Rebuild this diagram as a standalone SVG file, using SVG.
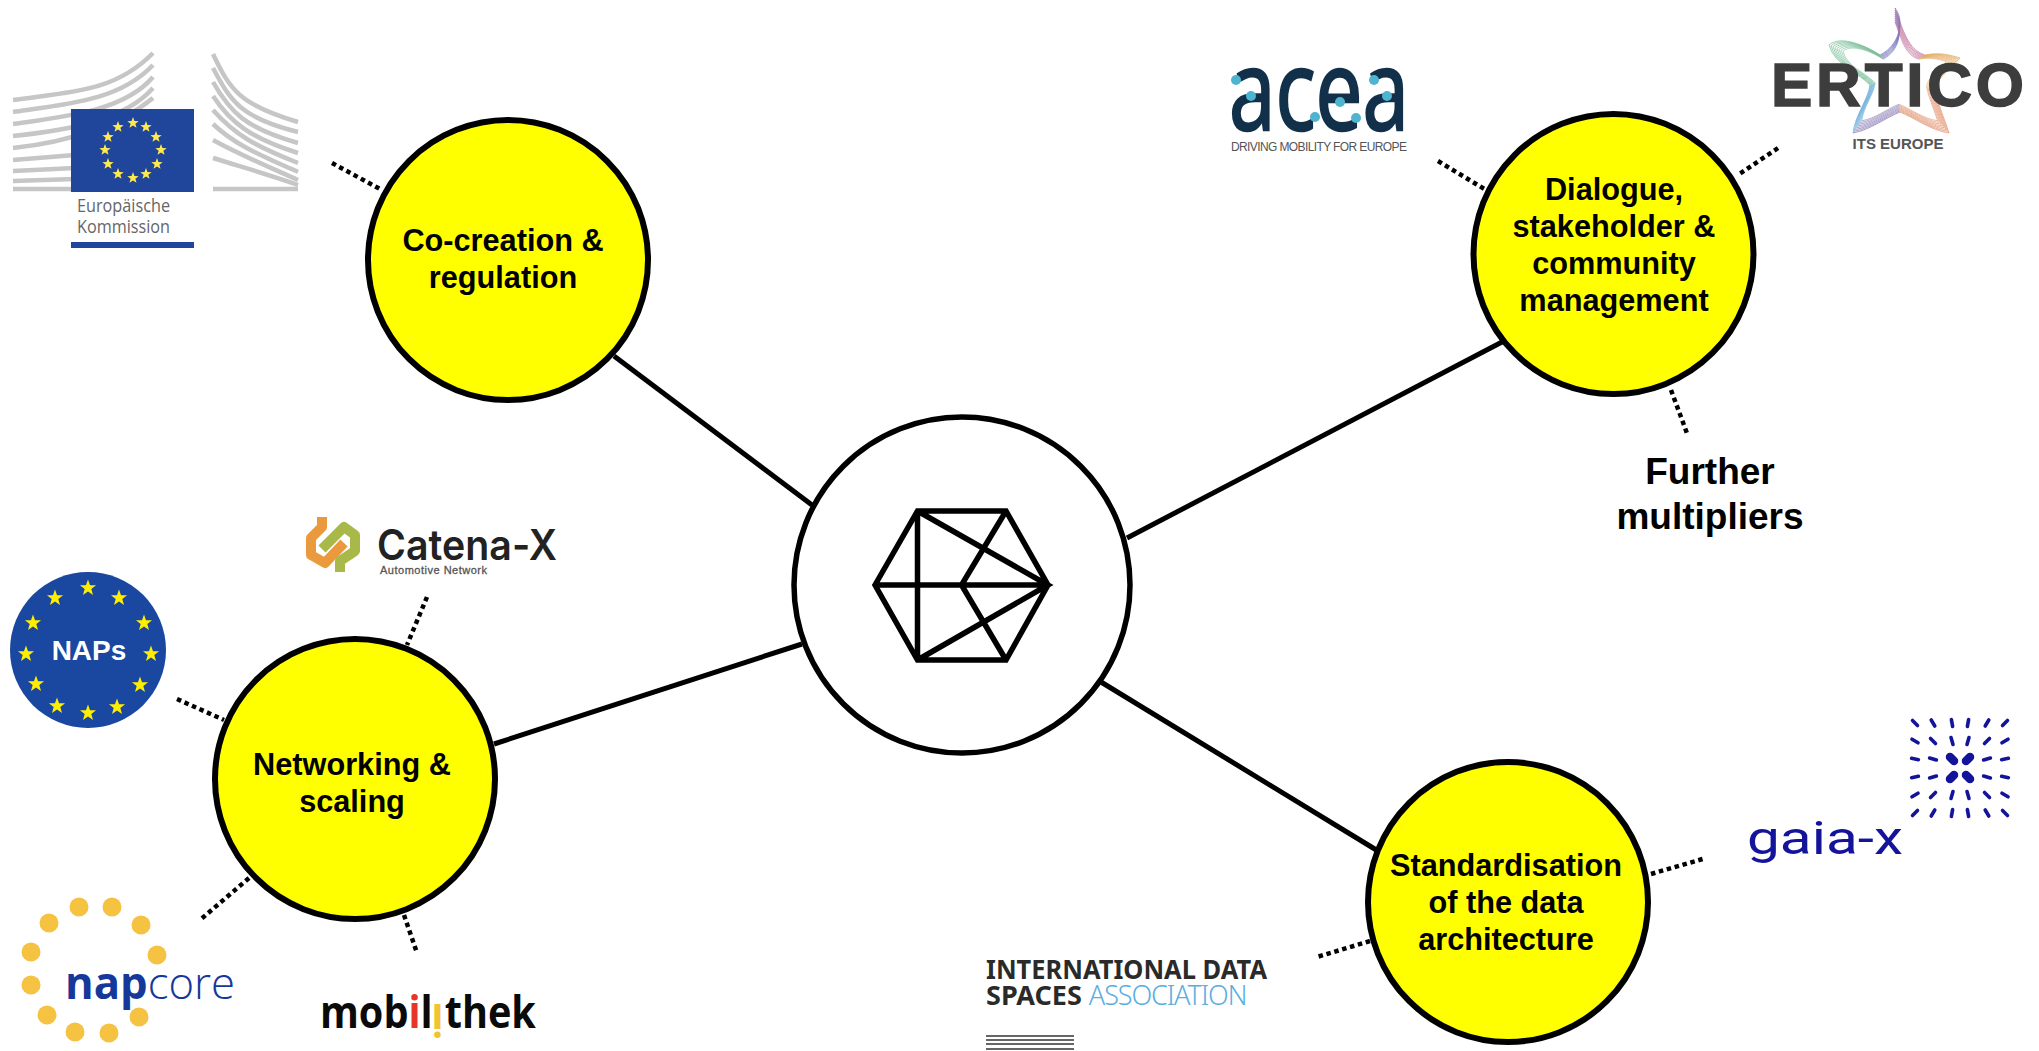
<svg xmlns="http://www.w3.org/2000/svg" xmlns:xlink="http://www.w3.org/1999/xlink" width="2039" height="1051" viewBox="0 0 2039 1051">
<style>
.bg{fill:#fff}
.node{fill:#ffff00;stroke:#000;stroke-width:6}
.label{font:bold 30.7px "Liberation Sans",Arial,sans-serif;fill:#000;text-anchor:middle}
.big{font:bold 37px "Liberation Sans",Arial,sans-serif;fill:#000;text-anchor:middle}
.solid{stroke:#000;stroke-width:5;fill:none}
.dot{stroke:#000;stroke-width:4.5;fill:none;stroke-dasharray:4.5 3.7}
.ecstar{fill:#ffe94f}
.napstar{fill:#ffee00}
.bld{stroke:#c6c6c6;stroke-width:4.5;fill:none}
.hex{stroke:#000;stroke-width:5.5;fill:none;stroke-linejoin:miter}
.nc{fill:#f5c242}
.ad{fill:#4fb4cf}
.gx{stroke:#14149a;stroke-width:3.6;stroke-linecap:round;fill:none}
.gxb{stroke:#14149a;stroke-width:8.5;stroke-linecap:round;fill:none}
.st{fill:none;stroke-width:.9;stroke-opacity:.8}
</style>
<defs>
<path id="star" d="M0,-1 L.24,-.33 .95,-.31 .39,.12 .59,.81 0,.4 -.59,.81 -.39,.12 -.95,-.31 -.24,-.33Z"/>
<g id="ertstar">
<path class="st" stroke="#7a78c0" d="M1895,8 C1905,20 1900,45 1880,55"/>
<path class="st" stroke="#c0709a" d="M1895,8 C1903,30 1908,50 1925,55"/>
<path class="st" stroke="#e0a050" d="M1925,55 C1940,52 1950,55 1960,58 C1950,70 1935,80 1935,90"/>
<path class="st" stroke="#e08860" d="M1935,90 C1938,105 1945,120 1949,133 C1930,130 1915,118 1900,112"/>
<path class="st" stroke="#8070b0" d="M1900,112 C1885,118 1870,130 1853,133"/>
<path class="st" stroke="#60a8d8" d="M1853,133 C1855,115 1868,100 1870,85"/>
<path class="st" stroke="#70b890" d="M1870,85 C1855,70 1835,65 1829,45 C1840,35 1865,45 1880,55"/>
</g>
<g id="gxt">
<path class="gx" d="M1912.5,720.5L1917.5,725.5M1931.2,720L1934.8,726M1951.4,719.6L1952.6,726.4M1968.6,719.6L1967.4,726.4M1988.8,720L1985.2,726M2007.5,720.5L2002.5,725.5M1912,739.2L1918,742.8M1930.5,738.5L1935.5,743.5M1951,737.6L1953,744.4M1969,737.6L1967,744.4M1989.5,738.5L1984.5,743.5M2008,739.2L2002,742.8M1911.6,758.3L1918.4,759.7M1929.6,758L1936.4,760M1990.4,758L1983.6,760M2008.4,758.3L2001.6,759.7"/>
<path class="gxb" d="M1950,757L1954,761M1970,757L1966,761"/>
</g>
</defs>
<rect class="bg" width="2039" height="1051"/>

<g id="connectors">
<path class="solid" d="M614,356L812,505"/>
<path class="solid" d="M1127,538L1502,342"/>
<path class="solid" d="M494,744L802,644"/>
<path class="solid" d="M1101,682L1378,851"/>
<path class="dot" d="M332,163L380,189"/>
<path class="dot" d="M1438,161L1486,190"/>
<path class="dot" d="M1778,148L1738,175"/>
<path class="dot" d="M1671,390L1688,436"/>
<path class="dot" d="M427,597L407,645"/>
<path class="dot" d="M177,699L224,720"/>
<path class="dot" d="M249,878L200,920"/>
<path class="dot" d="M404,915L417,953"/>
<path class="dot" d="M1651,874L1706,858"/>
<path class="dot" d="M1370,941L1317,957"/>
</g>

<g id="center">
<circle cx="962" cy="585" r="168" fill="#fff" stroke="#000" stroke-width="5.5"/>
<path class="hex" d="M875,585L917.5,511H1006L1048,585L1006,660H917.5ZM875,585H1048M917.5,511V660M917.5,511L1048,585L917.5,660M1006,511L961.5,585L1006,660"/>
</g>

<g id="node-cocreation">
<circle class="node" cx="508" cy="260" r="140"/>
<text class="label" x="503" y="251">Co-creation &amp;</text>
<text class="label" x="503" y="288">regulation</text>
</g>
<g id="node-dialogue">
<circle class="node" cx="1613.5" cy="254" r="140"/>
<text class="label" x="1614" y="200">Dialogue,</text>
<text class="label" x="1614" y="237">stakeholder &amp;</text>
<text class="label" x="1614" y="274">community</text>
<text class="label" x="1614" y="311">management</text>
</g>
<g id="node-networking">
<circle class="node" cx="355" cy="779" r="140"/>
<text class="label" x="352" y="775">Networking &amp;</text>
<text class="label" x="352" y="812">scaling</text>
</g>
<g id="node-standardisation">
<circle class="node" cx="1508" cy="902" r="140"/>
<text class="label" x="1506" y="876">Standardisation</text>
<text class="label" x="1506" y="913">of the data</text>
<text class="label" x="1506" y="950">architecture</text>
</g>
<g id="further">
<text class="big" x="1710" y="484">Further</text>
<text class="big" x="1710" y="529">multipliers</text>
</g>

<g id="logo-ec">
<path class="bld" d="M13,100C70,92 115,92 153,53M13,112C70,104 120,100 153,65M13,124C70,116 125,110 153,77M13,136C70,130 125,120 153,88M13,148C70,142 120,125 153,98M13,160L75,155M13,171L75,168M13,181L75,179"/>
<path class="bld" d="M13,189L75,189"/>
<path class="bld" d="M213,54C230,90 240,105 298,122M213,68C230,100 240,118 298,132M213,82C230,112 245,128 298,143M213,96C230,122 250,138 298,153M213,110C235,135 255,146 298,163M213,124C235,145 260,155 298,172M213,140C240,155 265,165 298,180M213,158C245,168 270,175 298,185M213,189L298,189"/>
<rect x="71" y="109" width="123" height="83" fill="#20469b"/>
<g class="ecstar">
<use href="#star" transform="translate(133 123) scale(6)"/><use href="#star" transform="translate(146 127) scale(6)"/><use href="#star" transform="translate(156 137) scale(6)"/><use href="#star" transform="translate(161 150) scale(6)"/><use href="#star" transform="translate(157 164) scale(6)"/><use href="#star" transform="translate(146 174) scale(6)"/><use href="#star" transform="translate(133 178) scale(6)"/><use href="#star" transform="translate(118 174) scale(6)"/><use href="#star" transform="translate(108 164) scale(6)"/><use href="#star" transform="translate(105 150) scale(6)"/><use href="#star" transform="translate(108 137) scale(6)"/><use href="#star" transform="translate(118 127) scale(6)"/>
</g>
<text x="77" y="212" font-family="'Open Sans',sans-serif" font-size="18" fill="#666" textLength="93" lengthAdjust="spacingAndGlyphs">Europäische</text>
<text x="77" y="233" font-family="'Open Sans',sans-serif" font-size="18" fill="#666" textLength="93" lengthAdjust="spacingAndGlyphs">Kommission</text>
<rect x="71" y="242" width="123" height="6" fill="#20469b"/>
</g>

<g id="logo-acea">
<text x="1229" y="130" font-family="'Open Sans',sans-serif" font-size="112" fill="#12304a" stroke="#12304a" stroke-width="2.5" textLength="180" lengthAdjust="spacingAndGlyphs">acea</text>
<g class="ad"><circle cx="1236" cy="80" r="5"/><circle cx="1251" cy="96" r="5"/><circle cx="1315" cy="117" r="5"/><circle cx="1340" cy="102" r="5"/><circle cx="1356" cy="118" r="5"/><circle cx="1387" cy="96" r="5"/><circle cx="1374" cy="80" r="5"/></g>
<text x="1231" y="151" font-family="'Liberation Sans',sans-serif" font-size="12" fill="#555" textLength="176" lengthAdjust="spacing">DRIVING MOBILITY FOR EUROPE</text>
</g>

<g id="logo-ertico">
<use href="#ertstar"/>
<use href="#ertstar" transform="translate(1895 75) scale(.97) translate(-1895 -75)"/>
<use href="#ertstar" transform="translate(1895 75) scale(.94) translate(-1895 -75)"/>
<use href="#ertstar" transform="translate(1895 75) scale(.91) translate(-1895 -75)"/>
<use href="#ertstar" transform="translate(1895 75) scale(.88) translate(-1895 -75)"/>
<use href="#ertstar" transform="translate(1895 75) scale(.85) translate(-1895 -75)"/>
<use href="#ertstar" transform="translate(1895 75) scale(.82) translate(-1895 -75)"/>
<use href="#ertstar" transform="translate(1895 75) scale(.79) translate(-1895 -75)"/>
<text x="1771" y="106" font-family="'Liberation Sans',sans-serif" font-weight="700" font-size="62" fill="#3d3d3d" stroke="#3d3d3d" stroke-width="1.5" textLength="253" lengthAdjust="spacing">ERTICO</text>
<text x="1898" y="149" text-anchor="middle" font-family="'Liberation Sans',sans-serif" font-weight="700" font-size="15" fill="#555">ITS EUROPE</text>
</g>

<g id="logo-catena">
<path d="M322,517V527L311,538V555L325,563L344,543" fill="none" stroke="#ea9a3c" stroke-width="10" stroke-linejoin="round"/>
<path d="M340,572V561L355,551V535L344,527L322,549" fill="none" stroke="#a8b94a" stroke-width="10" stroke-linejoin="round"/>
<text x="377" y="560" font-family="Inter,sans-serif" font-weight="600" font-size="42" fill="#222" textLength="180" lengthAdjust="spacingAndGlyphs">Catena-X</text>
<text x="380" y="574" font-family="'Liberation Sans',sans-serif" font-size="11" fill="#555" stroke="#555" stroke-width=".3" textLength="107" lengthAdjust="spacing">Automotive Network</text>
</g>

<g id="logo-naps">
<circle cx="88" cy="650" r="78" fill="#1a47a0"/>
<g class="napstar">
<use href="#star" transform="translate(88 588) scale(8.5)"/><use href="#star" transform="translate(119 598) scale(8.5)"/><use href="#star" transform="translate(144 623) scale(8.5)"/><use href="#star" transform="translate(151 654) scale(8.5)"/><use href="#star" transform="translate(140 685) scale(8.5)"/><use href="#star" transform="translate(117 707) scale(8.5)"/><use href="#star" transform="translate(88 713) scale(8.5)"/><use href="#star" transform="translate(57 706) scale(8.5)"/><use href="#star" transform="translate(36 684) scale(8.5)"/><use href="#star" transform="translate(26 654) scale(8.5)"/><use href="#star" transform="translate(33 623) scale(8.5)"/><use href="#star" transform="translate(55 598) scale(8.5)"/>
</g>
<text x="89" y="660" text-anchor="middle" font-family="'Liberation Sans',sans-serif" font-weight="700" font-size="28" fill="#fff">NAPs</text>
</g>

<g id="logo-napcore">
<g class="nc"><circle cx="79" cy="907" r="9.5"/><circle cx="112" cy="907" r="9.5"/><circle cx="141" cy="925" r="9.5"/><circle cx="157" cy="955" r="9.5"/><circle cx="139" cy="1017" r="9.5"/><circle cx="109" cy="1033" r="9.5"/><circle cx="75" cy="1032" r="9.5"/><circle cx="47" cy="1015" r="9.5"/><circle cx="31" cy="985" r="9.5"/><circle cx="31" cy="952" r="9.5"/><circle cx="49" cy="923" r="9.5"/></g>
<text x="65" y="999" font-family="'Open Sans',sans-serif" font-size="45" fill="#16389a" textLength="170" lengthAdjust="spacingAndGlyphs"><tspan font-weight="700">nap</tspan><tspan font-weight="300">core</tspan></text>
</g>

<g id="logo-mobilithek">
<text transform="translate(320 1028) scale(.9 1)" font-family="'Open Sans',sans-serif" font-weight="700" font-size="44" fill="#0a0a0a">mob<tspan fill="#e8352a">i</tspan>l<tspan fill="#f2c230" rotate="180" dx="12" dy="-24">i</tspan><tspan dx="-12" dy="24">thek</tspan></text>
</g>

<g id="logo-idsa">
<text x="986" y="979" font-family="'Noto Sans',sans-serif" font-weight="700" font-size="27" fill="#2a2a2a" textLength="281" lengthAdjust="spacingAndGlyphs">INTERNATIONAL DATA</text>
<text x="986" y="1005" font-family="'Noto Sans',sans-serif" font-size="27" fill="#5aaee0"><tspan font-weight="700" fill="#2a2a2a">SPACES</tspan> <tspan font-weight="300" letter-spacing="-1.1">ASSOCIATION</tspan></text>
<path d="M986,1036H1074M986,1040H1074M986,1044H1074M986,1049H1074" stroke="#666" stroke-width="2" fill="none"/>
</g>

<g id="logo-gaiax">
<use href="#gxt"/>
<use href="#gxt" transform="translate(0 1536) scale(1 -1)"/>
<text x="1747" y="854" font-family="Roboto,sans-serif" font-size="46" fill="#14149a" textLength="156" lengthAdjust="spacingAndGlyphs">gaia-x</text>
</g>
</svg>
